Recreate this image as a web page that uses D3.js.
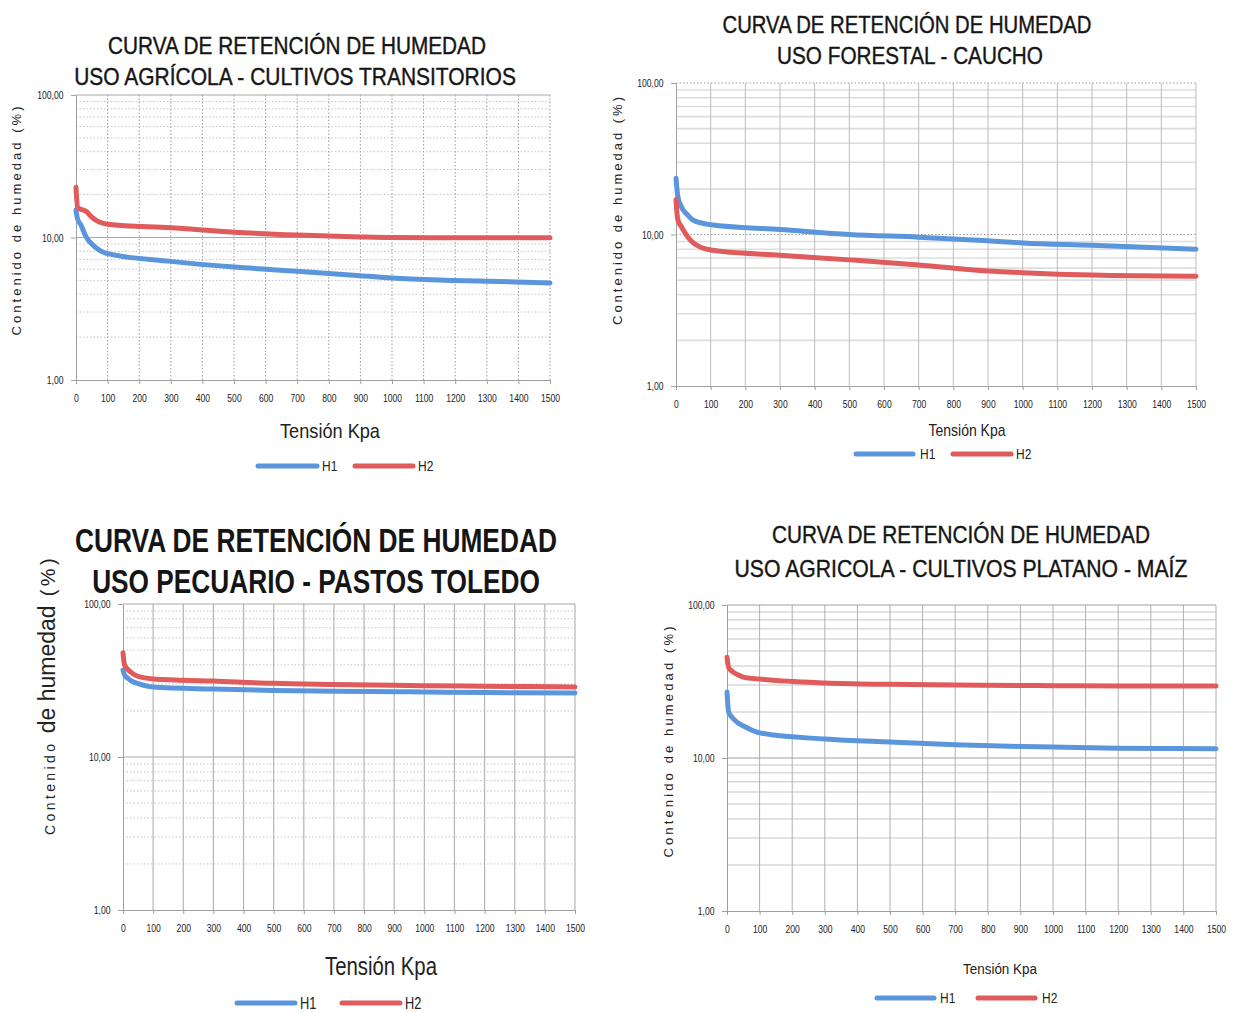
<!DOCTYPE html>
<html>
<head>
<meta charset="utf-8">
<script src="https://cdn.jsdelivr.net/npm/d3@7"></script>
<style>
  html, body { margin: 0; padding: 0; background: #fff; }
  svg { display: block; font-family: "Liberation Sans", Arial, sans-serif; }
</style>
</head>
<body>
<svg id="chart" width="1243" height="1012"></svg>
<script>
// tensiones (kPa)
const tension = [0, 5, 15, 33, 50, 100, 300, 500, 700, 900, 1000, 1200, 1500];

// uso agrícola - cultivos transitorios
const transH1 = [15.6, 13.5, 12.3, 10.0, 9.0, 7.7, 6.8, 6.2, 5.8, 5.4, 5.2, 5.0, 4.8];
const transH2 = [22.5, 16.2, 15.8, 15.2, 13.9, 12.4, 11.7, 10.9, 10.4, 10.1, 10.0, 9.95, 9.95];
// uso forestal - caucho
const cauchoH1 = [23.5, 18.0, 15.3, 13.5, 12.4, 11.6, 10.8, 10.0, 9.6, 9.1, 8.8, 8.5, 8.0];
const cauchoH2 = [17.0, 12.6, 11.3, 9.7, 8.8, 7.9, 7.3, 6.8, 6.3, 5.75, 5.6, 5.4, 5.3];
// uso pecuario - pastos toledo
const pastosH1 = [37.0, 34.5, 32.8, 31.0, 30.2, 28.7, 27.8, 27.2, 26.9, 26.7, 26.6, 26.4, 26.2];
const pastosH2 = [48.0, 40.0, 37.5, 35.0, 33.6, 32.4, 31.4, 30.3, 29.8, 29.4, 29.2, 29.0, 28.7];
// uso agricola - cultivos platano - maiz
const platanoH1 = [27.0, 20.0, 18.5, 17.0, 16.2, 14.6, 13.3, 12.7, 12.2, 11.9, 11.8, 11.6, 11.5];
const platanoH2 = [45.5, 39.0, 37.0, 35.0, 33.8, 32.8, 30.9, 30.3, 30.0, 29.8, 29.7, 29.6, 29.6];

const xTickValues = [0, 100, 200, 300, 400, 500, 600, 700, 800, 900, 1000, 1100, 1200, 1300, 1400, 1500];
const yTickValues = [1, 10, 100];
const yTickLabels = ['1,00', '10,00', '100,00'];
const seriesNames = ['H1', 'H2'];
const titleLine1 = 'CURVA DE RETENCIÓN DE HUMEDAD';
const subtitles = [
  'USO AGRÍCOLA - CULTIVOS TRANSITORIOS',
  'USO FORESTAL - CAUCHO',
  'USO PECUARIO - PASTOS TOLEDO',
  'USO AGRICOLA - CULTIVOS PLATANO - MAÍZ',
];
const xTitle = 'Tensión Kpa';
const yTitle = 'Contenido de humedad (%)';

const BLUE = '#5b96dd';
const RED = '#e05b5b';

const panels = [
  {
    h1: transH1, h2: transH2, sub: subtitles[0],
    x0: 76, x1: 550, y0: 95, y1: 380,
    t1: { cx: 297, y: 54, len: 378, size: 24 }, t2: { cx: 295, y: 85, len: 442, size: 24 },
    xt: { cx: 330, y: 438, len: 100, size: 20 },
    yt: { x: 21, cy: 221, len: 229, size: 13 },
    leg: { y: 466, b: [258, 317], h1: 322, r: [355, 413], h2: 418, size: 15 },
    vGrid: { c: '#9a9a9a', dash: '1.5,2', w: 1 },
    minor: { c: '#c4c4c4', dash: '1.5,2', w: 1 },
    major: { c: '#a8a8a8', dash: null, w: 1 },
  },
  {
    h1: cauchoH1, h2: cauchoH2, sub: subtitles[1],
    x0: 676, x1: 1196, y0: 83, y1: 386,
    t1: { cx: 907, y: 33, len: 369, size: 24 }, t2: { cx: 910, y: 64, len: 266, size: 24 },
    xt: { cx: 967, y: 436, len: 77, size: 16 },
    yt: { x: 622, cy: 211, len: 228, size: 13 },
    leg: { y: 454, b: [856, 913], h1: 920, r: [953, 1011], h2: 1016, size: 15 },
    vGrid: { c: '#bdbdbd', dash: null, w: 1 },
    minor: { c: '#dedede', dash: null, w: 1.6 },
    major: { c: '#9a9a9a', dash: '1.5,2', w: 1 },
  },
  {
    h1: pastosH1, h2: pastosH2, sub: subtitles[2], bold: true,
    x0: 123, x1: 575, y0: 604, y1: 910,
    t1: { cx: 316, y: 552, len: 482, size: 34 }, t2: { cx: 316, y: 593, len: 448, size: 34 },
    xt: { cx: 381, y: 975, len: 112, size: 25 },
    yt: { x: 55, big: true },
    leg: { y: 1003, b: [237, 295], h1: 300, r: [342, 400], h2: 405, size: 16 },
    vGrid: { c: '#b5b5b5', dash: null, w: 1.2 },
    minor: { c: '#c6c6c6', dash: '1.5,2', w: 1 },
    major: { c: '#a8a8a8', dash: null, w: 1 },
  },
  {
    h1: platanoH1, h2: platanoH2, sub: subtitles[3],
    x0: 727, x1: 1216, y0: 605, y1: 911,
    t1: { cx: 961, y: 543, len: 378, size: 24 }, t2: { cx: 961, y: 577, len: 453, size: 24 },
    xt: { cx: 1000, y: 974, len: 74, size: 14 },
    yt: { x: 673, cy: 742, len: 231, size: 13 },
    leg: { y: 998, b: [877, 934], h1: 940, r: [978, 1035], h2: 1042, size: 15 },
    vGrid: { c: '#b0b0b0', dash: null, w: 1 },
    minor: { c: '#d8d8d8', dash: null, w: 1.5 },
    major: { c: '#a0a0a0', dash: null, w: 1 },
  },
];

const svg = d3.select('#chart');

// minor log lines: 2..9, 20..90
const minorVals = [];
[1, 10].forEach((dec) => { for (let k = 2; k <= 9; k += 1) minorVals.push(k * dec); });

// squeeze a centred text horizontally to a target width
function fitText(sel, cx, y, len) {
  const natural = sel.node().getComputedTextLength() || len;
  sel.attr('x', 0).attr('y', 0)
    .attr('transform', `translate(${cx},${y}) scale(${len / natural},1)`);
}

function drawPanel(p) {
  const g = svg.append('g');
  const x = d3.scaleLinear().domain([0, 1500]).range([p.x0, p.x1]);
  const y = d3.scaleLog().domain([1, 100]).range([p.y1, p.y0]);

  // grid
  g.append('g').selectAll('line').data(minorVals).join('line')
    .attr('x1', p.x0).attr('x2', p.x1)
    .attr('y1', (d) => y(d)).attr('y2', (d) => y(d))
    .attr('stroke', p.minor.c).attr('stroke-width', p.minor.w)
    .attr('stroke-dasharray', p.minor.dash);
  g.append('g').selectAll('line').data(xTickValues.slice(1)).join('line')
    .attr('x1', (d) => x(d)).attr('x2', (d) => x(d))
    .attr('y1', p.y0).attr('y2', p.y1)
    .attr('stroke', p.vGrid.c).attr('stroke-width', p.vGrid.w)
    .attr('stroke-dasharray', p.vGrid.dash);
  g.append('g').selectAll('line').data([10, 100]).join('line')
    .attr('x1', p.x0).attr('x2', p.x1)
    .attr('y1', (d) => y(d)).attr('y2', (d) => y(d))
    .attr('stroke', p.major.c).attr('stroke-width', p.major.w)
    .attr('stroke-dasharray', p.major.dash);

  // axes
  const ax = g.append('g').attr('transform', `translate(0,${p.y1})`)
    .call(d3.axisBottom(x).tickValues(xTickValues).tickFormat(d3.format('d'))
      .tickSize(4).tickPadding(10).tickSizeOuter(0));
  const ay = g.append('g').attr('transform', `translate(${p.x0},0)`)
    .call(d3.axisLeft(y).tickValues(yTickValues).tickFormat((d, i) => yTickLabels[i])
      .tickSize(5).tickPadding(11).tickSizeOuter(0));
  [ax, ay].forEach((a) => {
    a.select('.domain').attr('stroke', '#a0a0a0');
    a.selectAll('.tick line').attr('stroke', '#a0a0a0');
    a.selectAll('.tick text').attr('font-size', 11).attr('fill', '#222')
      .attr('transform', 'scale(0.78,1)');
  });

  // curves
  const line = d3.line().x((d) => x(d[0])).y((d) => y(d[1])).curve(d3.curveMonotoneX);
  [[p.h1, BLUE], [p.h2, RED]].forEach(([vals, col]) => {
    g.append('path').datum(tension.map((t, i) => [t, vals[i]]))
      .attr('d', line).attr('fill', 'none').attr('stroke', col)
      .attr('stroke-width', 5).attr('stroke-linecap', 'round').attr('stroke-linejoin', 'round');
  });

  // titles
  const wt = p.bold ? 'bold' : 'normal';
  [[titleLine1, p.t1], [p.sub, p.t2]].forEach(([txt, t]) => {
    const tt = g.append('text').attr('text-anchor', 'middle')
      .attr('font-size', t.size).attr('font-weight', wt).attr('fill', '#151515')
      .attr('stroke', p.bold ? null : '#151515').attr('stroke-width', p.bold ? null : 0.4)
      .text(txt);
    fitText(tt, t.cx, t.y, t.len);
  });

  const xtt = g.append('text').attr('text-anchor', 'middle')
    .attr('font-size', p.xt.size).attr('fill', '#222').text(xTitle);
  fitText(xtt, p.xt.cx, p.xt.y, p.xt.len);

  if (p.yt.big) {
    const t = g.append('text').attr('transform', `translate(${p.yt.x},835) rotate(-90)`)
      .attr('fill', '#222');
    t.append('tspan').attr('font-size', 14).attr('letter-spacing', 3.4).text('Contenido ');
    t.append('tspan').attr('font-size', 23).text('de humedad');
    t.append('tspan').attr('font-size', 20).attr('letter-spacing', 3.5).text('   (%)');
  } else {
    g.append('text').attr('transform', `translate(${p.yt.x},${p.yt.cy}) rotate(-90)`)
      .attr('text-anchor', 'middle').attr('font-size', p.yt.size).attr('fill', '#222')
      .attr('textLength', p.yt.len).attr('lengthAdjust', 'spacing').text(yTitle);
  }

  // legend
  const L = p.leg;
  [[L.b, L.h1, BLUE, seriesNames[0]], [L.r, L.h2, RED, seriesNames[1]]].forEach(([seg, tx, col, name]) => {
    g.append('line').attr('x1', seg[0]).attr('x2', seg[1]).attr('y1', L.y).attr('y2', L.y)
      .attr('stroke', col).attr('stroke-width', 5).attr('stroke-linecap', 'round');
    g.append('text').attr('transform', `translate(${tx},${L.y + L.size * 0.36}) scale(0.8,1)`)
      .attr('font-size', L.size).attr('fill', '#222').text(name);
  });
}

panels.forEach(drawPanel);
</script>
</body>
</html>
